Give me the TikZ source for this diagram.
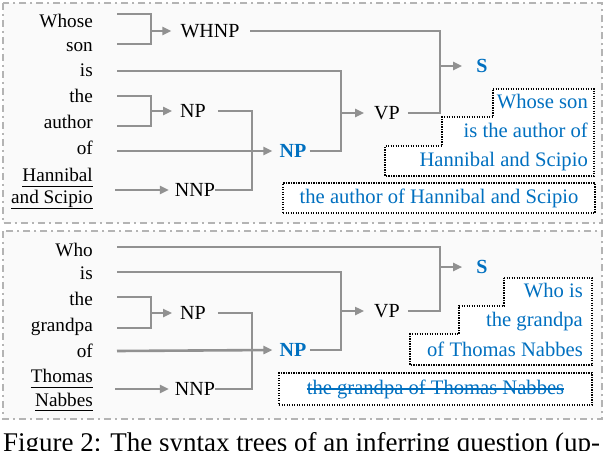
\documentclass[tikz,border=0pt]{standalone}
\usepackage{fontspec}
\setmainfont{Liberation Serif}
\usetikzlibrary{arrows.meta}
\definecolor{lineg}{RGB}{145,145,145}
\definecolor{qblue}{RGB}{0,112,192}
\definecolor{frameg}{RGB}{180,180,180}
\definecolor{panelbg}{RGB}{250,250,250}
\begin{document}
\begin{tikzpicture}[x=1pt,y=-1pt,
 word/.style={anchor=base east, inner sep=0pt, font=\fontsize{19.2}{22}\selectfont},
 lab/.style={inner sep=0pt, font=\fontsize{20}{24}\selectfont},
 blab/.style={inner sep=0pt, text=qblue, font=\fontsize{20}{24}\selectfont\bfseries},
 conn/.style={draw=lineg, line width=2.6pt},
 arr/.style={conn, -{Triangle[length=9pt,width=8pt]}},
 panel/.style={draw=frameg, fill=panelbg, line width=2pt, dash pattern=on 7pt off 4pt on 2pt off 4pt},
 dotbox/.style={draw=black, fill=white, line width=1.3pt, dash pattern=on 1.3pt off 1.2pt},
 btext/.style={inner sep=0pt, text=qblue, font=\fontsize{20.6}{29}\selectfont},
 uline/.style={draw=black, line width=1pt}
]
\useasboundingbox (0,0) rectangle (610,450);
\fill[white] (0,0) rectangle (610,450);
% panels
\draw[panel] (3,3) rectangle (602,223);
\draw[panel] (3,231) rectangle (602,419);

% ---------- top tree ----------
\node[word] (t1) at (93,27) {Whose};
\node[word] (t2) at (93,51) {son};
\node[word] (t3) at (93,76) {is};
\node[word] (t4) at (93,102) {the};
\node[word] (t5) at (93,128) {author};
\node[word] (t6) at (93,154) {of};
\node[word] (t7) at (93,181) {Hannibal};
\node[word] (t8) at (93,203) {and Scipio};
\draw[uline] ([yshift=-5pt]t7.base west) -- ([yshift=-5pt]t7.base east);
\draw[uline] ([yshift=-5pt]t8.base west) -- ([yshift=-5pt]t8.base east);

\coordinate (a1) at (117,14);
\coordinate (a2) at (117,44);
\coordinate (a3) at (117,71);
\coordinate (a4) at (117,96);
\coordinate (a5) at (117,126);
\coordinate (a6) at (117,151);
\coordinate (a7) at (115,190);

\node[lab] (whnp) at (210,31) {WHNP};
\node[lab] (np1) at (193,111) {NP};
\node[lab] (nnp1) at (195,190) {NNP};
\node[blab] (bnp1) at (293,151) {NP};
\node[lab] (vp1) at (387,113) {VP};
\node[blab] (s1) at (482,66) {S};

\coordinate (j1) at (151,31);
\coordinate (j2) at (151,111);
\coordinate (j3) at (252,151);
\coordinate (j4) at (341,113);
\coordinate (j5) at (440,66);

\draw[conn] (a1) -| (j1) |- (a2);
\draw[arr] (j1) -- ([xshift=-9pt]whnp.west);
\draw[conn] (a4) -| (j2) |- (a5);
\draw[arr] (j2) -- ([xshift=-8pt]np1.west);
\draw[conn] ([xshift=12pt]np1.east) -| (j3) |- (nnp1.east);
\draw[arr] (a6) -- ([xshift=-7pt]bnp1.west);
\draw[arr] (a7) -- ([xshift=-6pt]nnp1.west);
\draw[conn] ([xshift=3pt]bnp1.east) -| (j4) |- (a3);
\draw[arr] (j4) -- ([xshift=-10pt]vp1.west);
\draw[conn] ([xshift=8pt]vp1.east) -| (j5) |- ([xshift=10pt]whnp.east);
\draw[arr] (j5) -- ([xshift=-14pt]s1.west);

\draw[dotbox] (493,89) -- (594,89) -- (594,176) -- (385,176) -- (385,146) -- (442,146) -- (442,117) -- (493,117) -- cycle;
\node[btext, anchor=base east] (q1) at (588,108) {Whose son};
\node[btext, anchor=base east] (q2) at (588,137) {is the author of};
\node[btext, anchor=base east] (q3) at (588,166) {Hannibal and Scipio};

\node[dotbox, minimum width=312pt, minimum height=30pt, inner sep=0pt] (box1) at (439,198) {};
\node[btext] (r1) at (box1.center) {the author of Hannibal and Scipio};

% ---------- bottom tree ----------
\node[word] (u1) at (93,256) {Who};
\node[word] (u2) at (93,279) {is};
\node[word] (u3) at (93,305) {the};
\node[word] (u4) at (93,331) {grandpa};
\node[word] (u5) at (93,357) {of};
\node[word] (u6) at (93,382) {Thomas};
\node[word] (u7) at (93,406) {Nabbes};
\draw[uline] ([yshift=-5pt]u6.base west) -- ([yshift=-5pt]u6.base east);
\draw[uline] ([yshift=-4pt]u7.base west) -- ([yshift=-4pt]u7.base east);

\coordinate (b1) at (117,247);
\coordinate (b2) at (117,272);
\coordinate (b3) at (117,297);
\coordinate (b4) at (117,328);
\coordinate (b5) at (117,351);
\coordinate (b6) at (115,389);

\node[lab] (np2) at (193,313) {NP};
\node[lab] (nnp2) at (195,389) {NNP};
\node[blab] (bnp2) at (293,350) {NP};
\node[lab] (vp2) at (387,311) {VP};
\node[blab] (s2) at (482,267) {S};

\coordinate (k2) at (151,313);
\coordinate (k3) at (252,350);
\coordinate (k4) at (341,311);
\coordinate (k5) at (440,267);

\draw[conn] (b3) -| (k2) |- (b4);
\draw[arr] (k2) -- ([xshift=-8pt]np2.west);
\draw[conn] ([xshift=12pt]np2.east) -| (k3) |- (nnp2.east);
\draw[arr] (b5) -- ([xshift=-7pt]bnp2.west);
\draw[arr] (b6) -- ([xshift=-6pt]nnp2.west);
\draw[conn] ([xshift=3pt]bnp2.east) -| (k4) |- (b2);
\draw[arr] (k4) -- ([xshift=-10pt]vp2.west);
\draw[conn] ([xshift=8pt]vp2.east) -| (k5) |- (b1);
\draw[arr] (k5) -- ([xshift=-14pt]s2.west);

\draw[dotbox] (504,278) -- (592,278) -- (592,365) -- (410,365) -- (410,334) -- (459,334) -- (459,306) -- (504,306) -- cycle;
\node[btext, anchor=base east] (p1) at (583,297) {Who is};
\node[btext, anchor=base east] (p2) at (583,326) {the grandpa};
\node[btext, anchor=base east] (p3) at (583,356) {of Thomas Nabbes};

\node[dotbox, minimum width=313pt, minimum height=32pt, inner sep=0pt] (box2) at (435.5,389) {};
\node[btext] (r2) at (box2.center) {the grandpa of Thomas Nabbes};
\draw[draw=qblue, line width=1.3pt] ([yshift=5pt]r2.base west) -- ([yshift=5pt]r2.base east);

% caption
\begin{scope}
\clip (0,0) rectangle (610,450);
\node[anchor=base west, inner sep=0pt, font=\fontsize{27}{30}\selectfont] (cap) at (3,451) {Figure 2: The syntax trees of an inferring question (up-};
\end{scope}
\end{tikzpicture}
\end{document}
